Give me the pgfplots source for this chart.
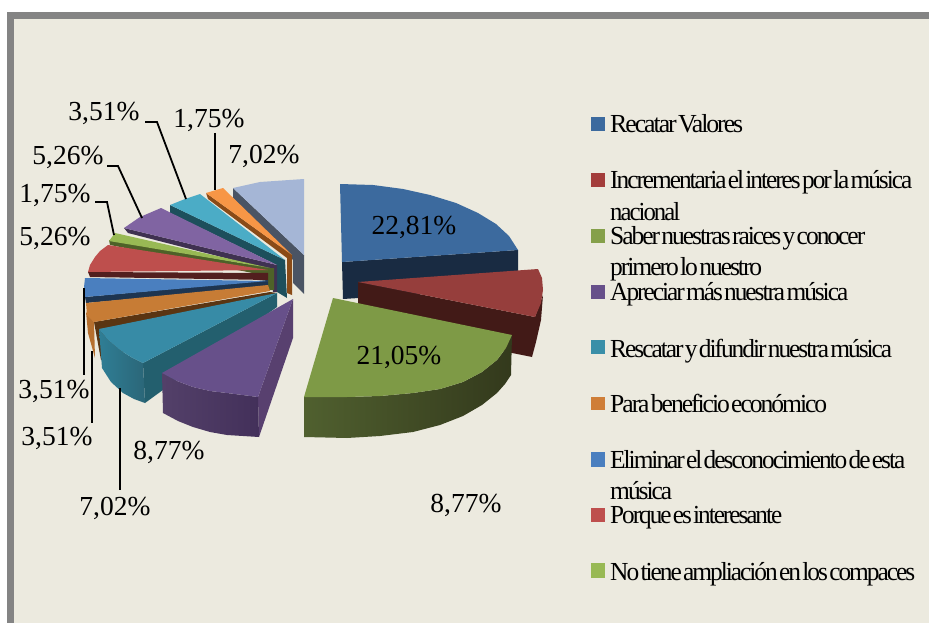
\documentclass[border=0pt]{standalone}
\usepackage{pgfplots}
\pgfplotsset{compat=1.18}
\usepackage{fontspec}
\setmainfont{Liberation Serif}
\newfontfamily\legf[LetterSpace=-8,WordSpace=0.3]{Liberation Serif}
\newcommand{\dc}[1]{\definecolor{c#1}{HTML}{#1}}
\dc{FFFFFF}\dc{848484}\dc{ECEADF}\dc{192B42}\dc{3C6A9E}\dc{421A17}\dc{963E3C}\dc{50602F}\dc{33391C}\dc{7E9A46}
\dc{4A5464}\dc{A5B6D6}\dc{8A4B17}\dc{F79646}\dc{1D4F5C}\dc{4BACC6}\dc{3F3151}\dc{8064A2}\dc{4E6128}\dc{98B954}
\dc{521F1E}\dc{BE4F4D}\dc{1E3550}\dc{4A7FBF}\dc{5A3512}\dc{B56F2E}\dc{C77C35}\dc{235F6E}\dc{2F7E95}\dc{2B6678}
\dc{378BA6}\dc{58406F}\dc{534069}\dc{43305A}\dc{67508A}\dc{A33D3B}\dc{85A04A}\dc{3A8FA8}\dc{CF7E38}
\newcommand{\leg}[4]{\node[anchor=base west,inner sep=0pt,text=black] at (axis cs:610,#1) {\resizebox{#2pt}{\height}{\fontsize{26}{28}\legf #4}};}
\newcommand{\lab}[3]{\node[inner sep=0pt,text=black] at (axis cs:#1,#2) {\fontsize{27.5}{29}\selectfont #3};}
\newcommand{\face}[2]{\addplot[fill=c#1,draw=none] coordinates {#2};}
\newcommand{\grad}[3]{\addplot[left color=c#1,right color=c#2,draw=none] coordinates {#3};}
\newcommand{\lead}[1]{\addplot[black,line width=1.8pt] coordinates {#1};}
\begin{document}
\begin{tikzpicture}
\begin{axis}[hide axis,scale only axis,width=929pt,height=623pt,xmin=0,xmax=929,ymin=0,ymax=623,y dir=reverse,no markers,clip=true]
% background
\face{FFFFFF}{(0,0)(929,0)(929,623)(0,623)}
\face{848484}{(7,12)(929,12)(929,623)(7,623)}
\face{ECEADF}{(14,19)(929,19)(929,623)(14,623)}
% Recatar Valores 22,81
\face{192B42}{(342,262)(518,250)(518,288)(343,299)}
\face{3C6A9E}{(340,184)(373,185)(403,189)(430,195)(456,203)(478,213)(496,224)(509,236)(518,250)(342,262)}
% Incrementaria 8,77
\face{421A17}{(358,282)(358,322)(532,357)(536,342)(541,320)(543,295)(535,317)}
\face{963E3C}{(358,282)(538,269)(542,278)(543,290)(541,303)(535,317)}
% Saber 21,05
\grad{50602F}{33391C}{(304,397)(347,397)(380,396)(413,393)(440,389)(463,382)(482,372)(497,360)(506,348)(512,335)(511,375)(505,384)(497,393)(482,405)(463,416)(440,425)(413,432)(380,436)(347,438)(304,437)}
\face{7E9A46}{(333,298)(512,335)(506,348)(497,360)(482,372)(463,382)(440,389)(413,393)(380,396)(347,397)(304,397)}
% back group: 7,02 light blue
\face{4A5464}{(233,188)(304,255)(304,294)(293,283)(293,260)(233,198)}
\face{A5B6D6}{(233,188)(260,182)(304,179)(304,255)}
% orange 1,75
\face{8A4B17}{(206,193)(292,255)(292,295)(287,293)(287,258)(208,199)}
\face{F79646}{(206,193)(223,188)(292,255)}
% teal 3,51
\face{1D4F5C}{(170,205)(285,260)(287,298)(277,292)(277,265)(170,213)}
\face{4BACC6}{(170,205)(185,199)(200,194)(285,260)}
% purple 5,26
\face{3F3151}{(124,228)(277,265)(277,292)(273,292)(272,270)(128,233)}
\face{8064A2}{(124,228)(140,217)(161,208)(277,265)}
% green 1,75
\face{4E6128}{(109,240)(270,268)(274,268)(274,290)(268,290)(268,276)(110,245)}
\face{98B954}{(115,233)(109,241)(270,268)}
% red 5,26
\face{521F1E}{(88,272)(268,273)(268,280)(90,277)}
\face{BE4F4D}{(108,245)(100,251)(95,257)(90,265)(88,272)(268,270)}
% blue 3,51
\face{1E3550}{(85,297)(268,280)(268,287)(86,303)}
\face{4A7FBF}{(85,278)(84,287)(85,297)(268,281)}
% orange 3,51
\face{5A3512}{(94,322)(270,292)(277,293)(101,360)}
\face{B56F2E}{(86,312)(88,333)(95,358)(94,322)}
\face{C77C35}{(86,303)(268,285)(270,291)(94,322)(87,315)}
% teal 7,02
\face{235F6E}{(277,293)(277,307)(145,403)(143,363)}
\grad{2F7E95}{2B6678}{(99,329)(102,368)(111,382)(123,393)(134,399)(145,403)(143,363)(131,357)(120,350)(108,340)}
\face{378BA6}{(277,293)(99,329)(108,340)(120,350)(131,357)(143,363)}
% purple 8,77
\face{58406F}{(293,299)(293,338)(259,437)(258,397)}
\grad{534069}{43305A}{(162,373)(177,381)(193,387)(210,391)(227,393)(258,397)(259,437)(227,435)(210,432)(193,427)(178,421)(163,413)}
\face{67508A}{(293,299)(258,397)(227,393)(210,391)(193,387)(177,381)(162,373)}
% leaders
\lead{(145,122)(157,122)(186,199)}
\lead{(215,133)(215,190)}
\lead{(107,166)(118,166)(142,218)}
\lead{(95,202)(107,202)(114,235)}
\lead{(84,288)(84,375)}
\lead{(92,351)(92,423)}
\lead{(120,388)(120,490)}
% legend swatches
\face{3C6A9E}{(591,117)(605,117)(605,131)(591,131)}
\face{A33D3B}{(591,173)(605,173)(605,187)(591,187)}
\face{85A04A}{(591,229)(605,229)(605,243)(591,243)}
\face{67508A}{(591,285)(605,285)(605,299)(591,299)}
\face{3A8FA8}{(591,340)(605,340)(605,354)(591,354)}
\face{CF7E38}{(591,397)(605,397)(605,410)(591,410)}
\face{4A7FBF}{(591,452)(605,452)(605,467)(591,467)}
\face{BE4F4D}{(591,508)(605,508)(605,522)(591,522)}
\face{98B954}{(591,563)(605,563)(605,578)(591,578)}
% legend text
\leg{132}{133}{}{Recatar Valores}
\leg{189}{302}{}{Incrementaria el interes por la música}
\leg{220}{70}{}{nacional}
\leg{244}{255}{}{Saber nuestras raices y conocer}
\leg{275}{152}{}{primero lo nuestro}
\leg{300}{238}{}{Apreciar más nuestra música}
\leg{357}{282}{}{Rescatar y difundir nuestra música}
\leg{412}{217}{}{Para beneficio económico}
\leg{468}{295}{}{Eliminar el desconocimiento de esta}
\leg{499}{62}{}{música}
\leg{523}{172}{}{Porque es interesante}
\leg{580}{305}{}{No tiene ampliación en los compaces}
% labels
\lab{104}{113}{3,51\%}
\lab{209}{120}{1,75\%}
\lab{264}{156}{7,02\%}
\lab{68}{157}{5,26\%}
\lab{55}{195}{1,75\%}
\lab{55}{238}{5,26\%}
\lab{54}{391}{3,51\%}
\lab{57}{438}{3,51\%}
\lab{169}{452}{8,77\%}
\lab{115}{508}{7,02\%}
\lab{466}{505}{8,77\%}
\lab{414}{227}{22,81\%}
\lab{399}{357}{21,05\%}
\end{axis}
\end{tikzpicture}
\end{document}
